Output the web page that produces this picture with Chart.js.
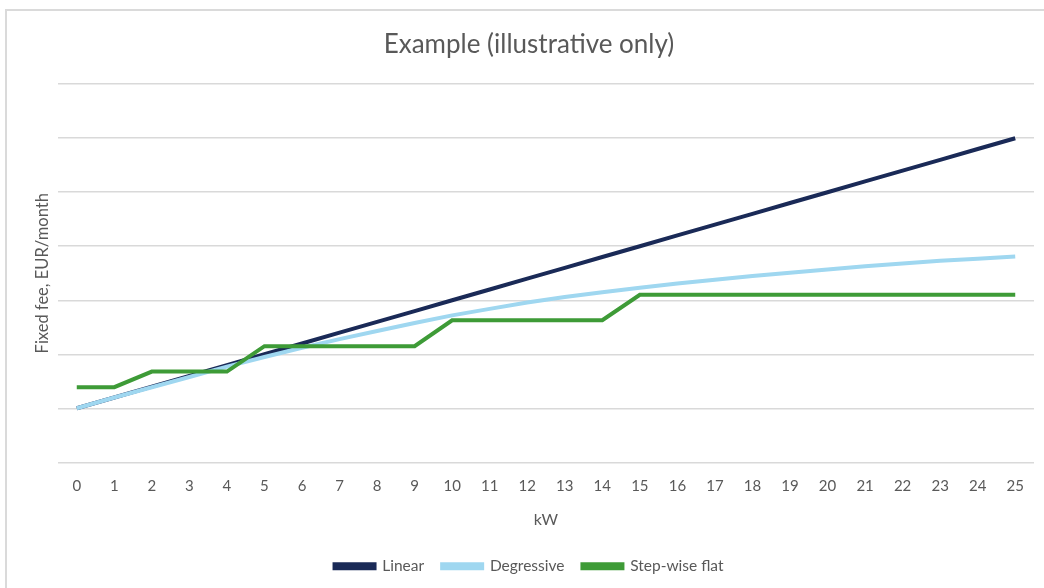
<!DOCTYPE html>
<html>
<head>
<meta charset="utf-8">
<script src="https://cdn.jsdelivr.net/npm/chart.js@4/dist/chart.umd.min.js"></script>
<style>
  html, body { margin: 0; padding: 0; background: #ffffff; }
  #wrap { position: relative; width: 1044px; height: 588px; overflow: hidden; }
  #frame { position: absolute; left: 5px; top: 9px; right: -10px; bottom: -10px;
           border-left: 2px solid #dadada; border-top: 2px solid #dadada; pointer-events: none; }
  canvas { position: absolute; left: 0; top: 0; }
</style>
</head>
<body>
<div id="wrap">
  <canvas id="c" width="1044" height="588"></canvas>
  <div id="frame"></div>
</div>
<script>
const categories = ["0","1","2","3","4","5","6","7","8","9","10","11","12","13","14","15","16","17","18","19","20","21","22","23","24","25"];
const linearValues = [1.0,1.2,1.4,1.6,1.8,2.0,2.2,2.4,2.6,2.8,3.0,3.2,3.4,3.6,3.8,4.0,4.2,4.4,4.6,4.8,5.0,5.2,5.4,5.6,5.8,6.0];
const degressiveValues = [1.0,1.2,1.39,1.58,1.77,1.95,2.12,2.28,2.43,2.58,2.72,2.84,2.96,3.06,3.15,3.23,3.31,3.38,3.45,3.51,3.57,3.63,3.68,3.73,3.77,3.81];
const stepValues = [1.39,1.39,1.68,1.68,1.68,2.15,2.15,2.15,2.15,2.15,2.63,2.63,2.63,2.63,2.63,3.10,3.10,3.10,3.10,3.10,3.10,3.10,3.10,3.10,3.10,3.10];
const seriesNames = ["Linear","Degressive","Step-wise flat"];
const titleText = "Example (illustrative only)";
const yTitle = "Fixed fee, EUR/month";
const xTitle = "kW";

const FONT = "Lato, 'Open Sans', sans-serif";
const GREY = "#595959";

new Chart(document.getElementById("c"), {
  type: "line",
  data: {
    labels: categories,
    datasets: [
      { label: seriesNames[0], data: linearValues, order: 3, borderColor: "#1a2a57", backgroundColor: "#1a2a57", borderWidth: 4, pointRadius: 0, tension: 0 },
      { label: seriesNames[1], data: degressiveValues, order: 2, borderColor: "#9fd7f0", backgroundColor: "#9fd7f0", borderWidth: 4, pointRadius: 0, tension: 0 },
      { label: seriesNames[2], data: stepValues, order: 1, borderColor: "#3e9b37", backgroundColor: "#3e9b37", borderWidth: 4, pointRadius: 0, tension: 0 }
    ]
  },
  options: {
    responsive: false,
    animation: false,
    layout: { padding: { top: 29, left: 24, right: 10, bottom: 4 } },
    plugins: {
      title: { display: true, text: titleText, color: GREY, font: { family: FONT, size: 26, weight: "normal" }, padding: { top: 0, bottom: 24 } },
      legend: {
        position: "bottom",
        labels: { color: GREY, font: { family: FONT, size: 15.5 }, boxWidth: 40, boxHeight: 4, padding: 18,
                  sort: (a, b) => a.datasetIndex - b.datasetIndex }
      },
      tooltip: { enabled: false }
    },
    scales: {
      x: {
        offset: true,
        grid: { display: false, drawTicks: false },
        border: { display: false },
        ticks: { color: GREY, font: { family: FONT, size: 15 }, padding: 15, maxRotation: 0, autoSkip: false },
        title: { display: true, text: xTitle, color: GREY, font: { family: FONT, size: 16 }, padding: { top: 0, bottom: 11 } }
      },
      y: {
        min: 0, max: 7,
        ticks: { display: false, stepSize: 1 },
        grid: { color: "#d9d9d9", lineWidth: 1.5, drawTicks: false },
        border: { display: false },
        title: { display: true, text: yTitle, color: GREY, font: { family: FONT, size: 16.5 }, padding: { top: 9, bottom: 0 } },
        afterFit: (s) => { s.width = 34; }
      }
    }
  }
});
</script>
</body>
</html>
